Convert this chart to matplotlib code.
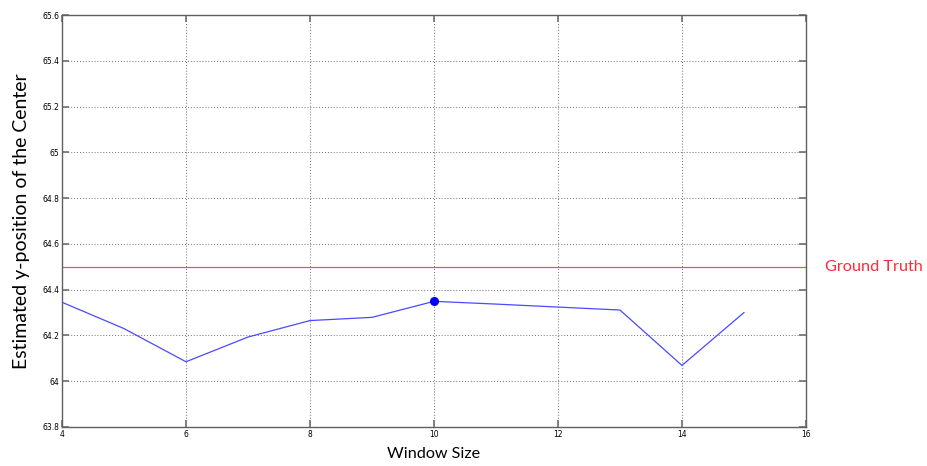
import matplotlib
matplotlib.use("Agg")
import matplotlib.pyplot as plt

# values
window_size = [4, 5, 6, 7, 8, 9, 10, 11, 12, 13, 14, 15]
est_y_center = [64.345, 64.23, 64.085, 64.193, 64.265, 64.279, 64.349,
                64.337, 64.324, 64.311, 64.069, 64.30]
ground_truth = 64.5
best_idx = 6  # window size 10

x_ticks = [4, 6, 8, 10, 12, 14, 16]
y_ticks = [63.8, 64, 64.2, 64.4, 64.6, 64.8, 65, 65.2, 65.4, 65.6]
y_tick_labels = ["63.8", "64", "64.2", "64.4", "64.6", "64.8", "65", "65.2", "65.4", "65.6"]

fig = plt.figure(figsize=(9.28, 4.66), dpi=100)
ax = fig.add_axes([0.0668, 0.0837, 0.8017, 0.8841])

ax.axhline(ground_truth, color="#e05a5a", linewidth=0.9, zorder=2)
ax.plot(window_size, est_y_center, color="#4a4aff", linewidth=0.9, zorder=3)
ax.plot(window_size[best_idx], est_y_center[best_idx], "o",
        color="#0000ff", markersize=5.5, zorder=4)

ax.set_xlim(4, 16)
ax.set_ylim(63.8, 65.6)
ax.set_xticks(x_ticks)
ax.set_xticklabels([str(t) for t in x_ticks])
ax.set_yticks(y_ticks)
ax.set_yticklabels(y_tick_labels)

ax.grid(True, linestyle=(0, (1, 2)), color="#707070", linewidth=0.7)
ax.tick_params(direction="in", length=5, width=1.2, color="#707070",
               labelsize=5.5, top=True, right=True, pad=2)
for s in ax.spines.values():
    s.set_color("#606060")
    s.set_linewidth(1.0)

ax.set_xlabel("Window Size", fontsize=11.6, family="Lato", labelpad=6)
ax.set_ylabel("Estimated y-position of the Center", fontsize=14, family="Lato", labelpad=9)

ax.text(1.025, ground_truth, "Ground Truth", transform=ax.get_yaxis_transform(),
        color="#ff2a3a", fontsize=11.7, family="Lato", va="center", ha="left")

fig.savefig("out.png", dpi=100)
